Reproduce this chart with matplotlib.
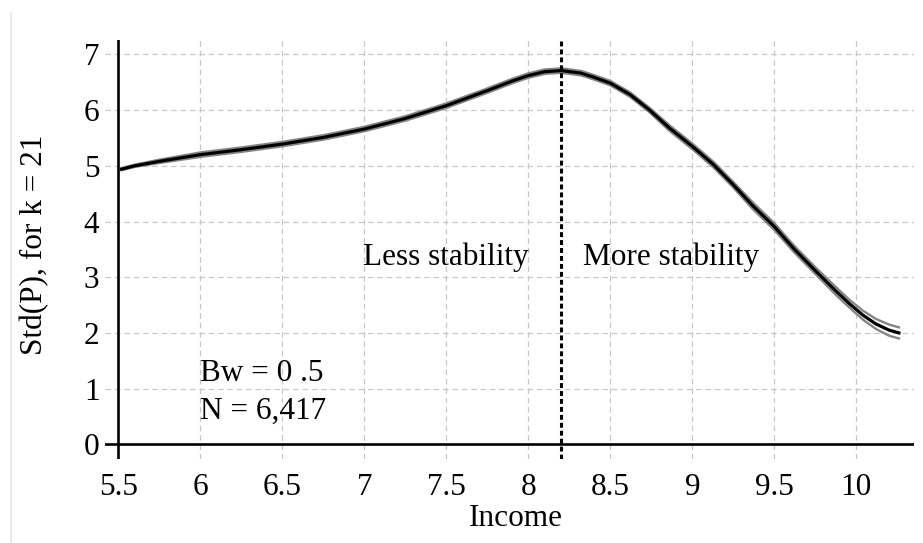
import matplotlib
matplotlib.use("Agg")
import matplotlib.pyplot as plt
from matplotlib.lines import Line2D
from matplotlib.ticker import FuncFormatter

# smoothed std(P) against log income, with its upper/lower band
income = [5.52, 5.6, 5.75, 6.0, 6.25, 6.5, 6.75, 7.0, 7.25, 7.5, 7.75, 7.9, 8.0,
          8.1, 8.2, 8.32, 8.39, 8.5, 8.62, 8.74, 8.86, 9.0, 9.13, 9.25, 9.37, 9.5,
          9.62, 9.75, 9.88, 9.96, 10.04, 10.12, 10.2, 10.26]
std_p = [4.94, 5.00, 5.08, 5.20, 5.29, 5.39, 5.51, 5.66, 5.85, 6.08, 6.35, 6.52, 6.62,
         6.69, 6.71, 6.665, 6.60, 6.485, 6.28, 6.00, 5.68, 5.35, 5.02, 4.66, 4.28, 3.91,
         3.51, 3.12, 2.74, 2.52, 2.32, 2.16, 2.05, 2.00]
band = [0.02, 0.02, 0.03, 0.04, 0.04, 0.04, 0.04, 0.04, 0.04, 0.04, 0.04, 0.04, 0.04,
        0.04, 0.04, 0.04, 0.04, 0.04, 0.04, 0.04, 0.05, 0.05, 0.05, 0.05, 0.06, 0.06,
        0.06, 0.06, 0.07, 0.07, 0.08, 0.09, 0.10, 0.10]
upper = [m + b for m, b in zip(std_p, band)]
lower = [m - b for m, b in zip(std_p, band)]

xticks = [5.5, 6, 6.5, 7, 7.5, 8, 8.5, 9, 9.5, 10]
yticks = [0, 1, 2, 3, 4, 5, 6, 7]
peak_income = 8.2

plt.rcParams['font.family'] = ['Liberation Serif', 'DejaVu Serif']
plt.rcParams['font.size'] = 22.5

fig = plt.figure(figsize=(9.23, 5.43), dpi=100)
ax = fig.add_axes([105 / 923, 1 - 459 / 543, 809 / 923, 419 / 543])

ax.set_xlim(5.419, 10.352)
ax.set_ylim(-0.264, 7.259)
ax.set_xticks(xticks)
ax.set_yticks(yticks)
ax.xaxis.set_major_formatter(FuncFormatter(lambda v, p: '%g' % v))
ax.yaxis.set_major_formatter(FuncFormatter(lambda v, p: '%g' % v))
ax.tick_params(axis='x', length=0, pad=10)
ax.tick_params(axis='y', length=0, pad=4)
for s in ax.spines.values():
    s.set_visible(False)

ax.grid(True, color='#c8c8c8', linestyle=(0, (4.5, 3)), linewidth=0.9)
ax.set_axisbelow(True)

# axes drawn through (5.5, 0)
ax.axvline(5.5, color='black', lw=1.9, zorder=3)
ax.axhline(0, color='black', lw=1.9, zorder=3)

ax.plot(income, upper, color='#858585', lw=1.7, zorder=4)
ax.plot(income, lower, color='#858585', lw=1.7, zorder=4)
ax.plot(income, std_p, color='black', lw=2.3, zorder=5)

ax.axvline(peak_income, color='black', lw=2.2, linestyle=(0, (1.6, 1.0)), zorder=6)

ax.text(8.0, 3.22, 'Less stability', ha='right', va='baseline')
ax.text(8.335, 3.22, 'More stability', ha='left', va='baseline')
ax.text(6.0, 1.14, 'Bw = 0 .5', ha='left', va='baseline')
ax.text(6.0, 0.45, 'N = 6,417', ha='left', va='baseline')

fig.text(516 / 923, 1 - 519 / 543, 'Income', ha='center', va='center')
fig.text(35 / 923, 1 - 245 / 543, 'Std(P), for k = 21', rotation=90,
         ha='center', va='center')

# thin frame line on the left edge
fig.add_artist(Line2D([10.5 / 923, 10.5 / 923], [0, 1 - 13 / 543],
                      transform=fig.transFigure, color='#e4ecf0', lw=1.5))

fig.savefig('out.png', dpi=100)
